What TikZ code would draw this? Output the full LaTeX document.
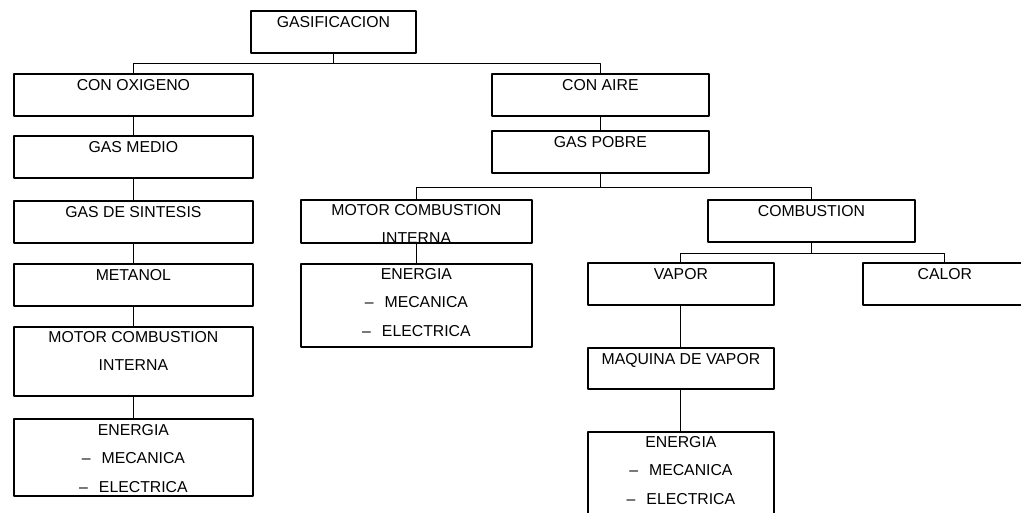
\documentclass[tikz,border=0pt]{standalone}
\usepackage{fontspec}
\setmainfont{Liberation Sans}
\usetikzlibrary{positioning}

\begin{document}
\begin{tikzpicture}[x=1pt, y=1pt, line join=round,
		box/.style={draw, line width=1.8pt, anchor=north west, inner sep=0pt},
		txt/.style={inner sep=0pt, align=center, font=\fontsize{15.8}{28.5}\selectfont},
		link/.style={line width=0.9pt}]
	
	\useasboundingbox (0,0) rectangle (1021,-513);
	
	% Box dimensions
	\def\WL{239}  % width of the left column
	\def\WM{231}  % width of the middle column
	\def\WV{186}  % width of the vapour column
	\def\H{42}    % height of a one-line box
	\def\guion#1{--\hspace{0.7em}#1}
	
	% --- TOP: gasificacion ---
	\node[box, minimum width=165pt, minimum height=\H pt] (gasif) at (250,-10) {};
	\node[txt, below=6pt of gasif.north] (gasif-t) {GASIFICACION};
	
	% --- LEFT: con oxigeno ---
	\node[box, minimum width=\WL pt, minimum height=\H pt] (oxi) at (13,-73) {};
	\node[box, minimum width=\WL pt, minimum height=\H pt] (medio) at (13,-135) {};
	\node[box, minimum width=\WL pt, minimum height=\H pt] (sint) at (13,-200) {};
	\node[box, minimum width=\WL pt, minimum height=\H pt] (metanol) at (13,-263) {};
	\node[box, minimum width=\WL pt, minimum height=69pt] (motorL) at (13,-326) {};
	\node[box, minimum width=\WL pt, minimum height=77pt] (energiaL) at (13,-418) {};
	\node[txt, below=6pt of oxi.north] (oxi-t) {CON OXIGENO};
	\node[txt, below=6pt of medio.north] (medio-t) {GAS MEDIO};
	\node[txt, below=6pt of sint.north] (sint-t) {GAS DE SINTESIS};
	\node[txt, below=6pt of metanol.north] (metanol-t) {METANOL};
	\node[txt, below=5pt of motorL.north] (motorL-t) {MOTOR COMBUSTION\\INTERNA};
	\node[txt, below=6pt of energiaL.north] (energiaL-t)
	{ENERGIA\\\guion{MECANICA}\\\guion{ELECTRICA}};
	
	% --- RIGHT: con aire ---
	\node[box, minimum width=217pt, minimum height=\H pt] (aire) at (491,-73) {};
	\node[box, minimum width=217pt, minimum height=\H pt] (pobre) at (491,-130) {};
	\node[txt, below=6pt of aire.north] (aire-t) {CON AIRE};
	\node[txt, below=6pt of pobre.north] (pobre-t) {GAS POBRE};
	
	% middle branch
	\node[box, minimum width=\WM pt, minimum height=43pt] (motorM) at (300,-199) {};
	\node[box, minimum width=\WM pt, minimum height=83pt] (energiaM) at (300,-263) {};
	\node[txt, below=5pt of motorM.north] (motorM-t) {MOTOR COMBUSTION\\INTERNA};
	\node[txt, below=5pt of energiaM.north] (energiaM-t)
	{ENERGIA\\\guion{MECANICA}\\\guion{ELECTRICA}};
	
	% combustion branch
	\node[box, minimum width=207pt, minimum height=\H pt] (comb) at (707,-199) {};
	\node[box, minimum width=\WV pt, minimum height=\H pt] (vapor) at (587,-262) {};
	\node[box, minimum width=164pt, minimum height=\H pt] (calor) at (862,-262) {};
	\node[box, minimum width=\WV pt, minimum height=41pt] (maquina) at (587,-347) {};
	\node[box, minimum width=\WV pt, minimum height=95pt] (energiaR) at (587,-431) {};
	\node[txt, below=6pt of comb.north] (comb-t) {COMBUSTION};
	\node[txt, below=6pt of vapor.north] (vapor-t) {VAPOR};
	\node[txt, below=6pt of calor.north] (calor-t) {CALOR};
	\node[txt, below=6pt of maquina.north] (maquina-t) {MAQUINA DE VAPOR};
	\node[txt, below=5pt of energiaR.north] (energiaR-t)
	{ENERGIA\\\guion{MECANICA}\\\guion{ELECTRICA}};
	
	% --- CONNECTORS ---
	\draw[link] (gasif.south) -- ++(0,-10) -| (oxi.north);
	\draw[link] (gasif.south) -- ++(0,-10) -| (aire.north);
	\draw[link] (pobre.south) -- ++(0,-14) -| (motorM.north);
	\draw[link] (pobre.south) -- ++(0,-14) -| (comb.north);
	\draw[link] (comb.south) -- ++(0,-11) -| (vapor.north);
	\draw[link] (comb.south) -- ++(0,-11) -| (calor.north);
	\foreach \a/\b in {oxi/medio, medio/sint, sint/metanol, metanol/motorL,
		motorL/energiaL, aire/pobre, motorM/energiaM, vapor/maquina, maquina/energiaR}{
		\draw[link] (\a.south) -- (\b.north);
	}
	
\end{tikzpicture}
\end{document}
